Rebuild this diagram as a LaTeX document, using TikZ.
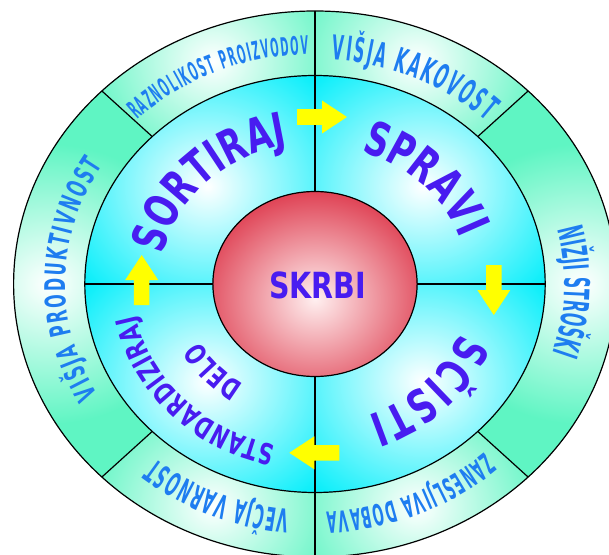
\documentclass[tikz,border=0pt]{standalone}
\usepackage{fontspec}
\setmainfont{DejaVu Sans}
\newfontfamily\outerf{DejaVu Sans Condensed}[FakeStretch=0.49]
\newfontfamily\outern{DejaVu Sans Condensed}[FakeStretch=0.43]
\newfontfamily\outerw{DejaVu Sans Condensed}[FakeStretch=0.62]
\newfontfamily\innerf{DejaVu Sans Condensed}[FakeStretch=0.78]
\newfontfamily\centf{DejaVu Sans Condensed}[FakeStretch=0.88]
\usetikzlibrary{decorations.text}
\definecolor{ringgreen}{RGB}{95,245,195}
\definecolor{midcyan}{RGB}{0,238,250}
\definecolor{ballred}{RGB}{215,22,45}
\definecolor{outerblue}{RGB}{30,125,240}
\definecolor{innerblue}{RGB}{72,28,240}
\definecolor{arrowyellow}{RGB}{255,255,0}
% #1 start angle, #2 end angle, #3 inner r, #4 outer r, #5 colour, #6 glow size, #7 glow radius
\newcommand\ringseg[7]{%
  \begin{scope}
    \clip (#1:#4) arc[start angle=#1,end angle=#2,radius=#4] -- (#2:#3)
          arc[start angle=#2,end angle=#1,radius=#3] -- cycle;
    \fill[#5] (-330,-330) rectangle (330,330);
    \shade[inner color=white,outer color=#5] ({(#1+#2)/2}:#7) circle[radius=#6];
  \end{scope}}
% #1 start angle, #2 end angle, #3 radius, #4 font, #5 colour, #6 text
\newcommand\ringtext[6]{%
  \path[decorate,decoration={text along path,text align={fit to path},
        text color=#5,text={|#4|#6}}]
        (#1:#3) arc[start angle=#1,end angle=#2,radius=#3];}
\tikzset{
  divider/.style={line width=1.2pt,black},
  yarrow/.pic={\fill[arrowyellow] (0,-7.8)--(25,-7.8)--(25,-16.5)--(50,0)--(25,16.5)--(25,7.8)--(0,7.8)--cycle;}
}
\begin{document}
\begin{tikzpicture}[x=1pt,y=1pt]
\useasboundingbox (-315,-270) rectangle (294,284);
\begin{scope}[xscale=1.104]
  % outer ring segments
  \ringseg{135}{90}{208.5}{273}{ringgreen}{120}{241}
  \ringseg{90}{45}{208.5}{273}{ringgreen}{120}{241}
  \ringseg{45}{-45}{208.5}{273}{ringgreen}{140}{241}
  \ringseg{-45}{-90}{208.5}{273}{ringgreen}{120}{241}
  \ringseg{-90}{-135}{208.5}{273}{ringgreen}{120}{241}
  \ringseg{225}{135}{208.5}{273}{ringgreen}{140}{241}
  % middle ring quadrants
  \ringseg{180}{90}{92.5}{208.5}{midcyan}{150}{138}
  \ringseg{90}{0}{92.5}{208.5}{midcyan}{150}{138}
  \ringseg{0}{-90}{92.5}{208.5}{midcyan}{150}{138}
  \ringseg{-90}{-180}{92.5}{208.5}{midcyan}{150}{138}
  % centre ball
  \fill[ballred] (0,0) circle[radius=92.5];
  \begin{scope}
    \clip (0,0) circle[radius=92.5];
    \shade[inner color=red!6!white,outer color=ballred] (0,-15) circle[radius=135];
  \end{scope}
  % outlines and dividers
  \draw[divider] (0,0) circle[radius=273];
  \draw[divider] (0,0) circle[radius=208.5];
  \draw[divider] (0,0) circle[radius=92.5];
  \draw[divider] (90:92.5) -- (90:273);
  \draw[divider] (270:92.5) -- (270:273);
  \draw[divider] (0:92.5) -- (0:208.5);
  \draw[divider] (180:92.5) -- (180:208.5);
  \foreach \a in {45,135,225,315} \draw[divider] (\a:208.5) -- (\a:273);
  % outer ring texts
  \ringtext{134.5}{91.5}{230}{\outern\bfseries\fontsize{25.5}{26}\selectfont}{outerblue}{RAZNOLIKOST PROIZVODOV}
  \ringtext{86.2}{46.5}{225}{\outerf\bfseries\fontsize{34}{35}\selectfont}{outerblue}{VIŠJA KAKOVOST}
  \ringtext{14}{-17.8}{226}{\outerf\bfseries\fontsize{35}{36}\selectfont}{outerblue}{NIŽJI STROŠKI}
  \ringtext{-47.7}{-87.3}{228}{\outerf\bfseries\fontsize{29.5}{30}\selectfont}{outerblue}{ZANESLJIVA DOBAVA}
  \ringtext{-95.8}{-129.6}{227}{\outerf\bfseries\fontsize{32.5}{33}\selectfont}{outerblue}{VEČJA VARNOST}
  \ringtext{209.2}{148.3}{226}{\outerw\bfseries\fontsize{28.5}{29}\selectfont}{outerblue}{VIŠJA PRODUKTIVNOST}
  % middle ring texts
  \ringtext{168}{100}{141}{\innerf\bfseries\fontsize{47}{47}\selectfont}{innerblue}{SORTIRAJ}
  \ringtext{72.5}{20}{139}{\innerf\bfseries\fontsize{47}{47}\selectfont}{innerblue}{SPRAVI}
  \ringtext{-20.4}{-70}{140}{\innerf\bfseries\fontsize{47}{47}\selectfont}{innerblue}{SČISTI}
  \ringtext{-102.5}{-169}{165}{\innerf\bfseries\fontsize{29}{30}\selectfont}{innerblue}{STANDARDIZIRAJ}
  \ringtext{-123}{-151}{119}{\innerf\bfseries\fontsize{29}{30}\selectfont}{innerblue}{DELO}
\end{scope}
% arrows
\pic at (-18,167) {yarrow};
\pic[rotate=-90] at (178.8,19) {yarrow};
\pic[rotate=180] at (24.3,-168.8) {yarrow};
\pic[rotate=90] at (-173.3,-21) {yarrow};
% centre label
\node[inner sep=0pt,text=innerblue,font=\centf\bfseries\fontsize{36}{36}\selectfont] (skrbi) at (2.5,-1) {SKRBI};
\end{tikzpicture}
\end{document}
